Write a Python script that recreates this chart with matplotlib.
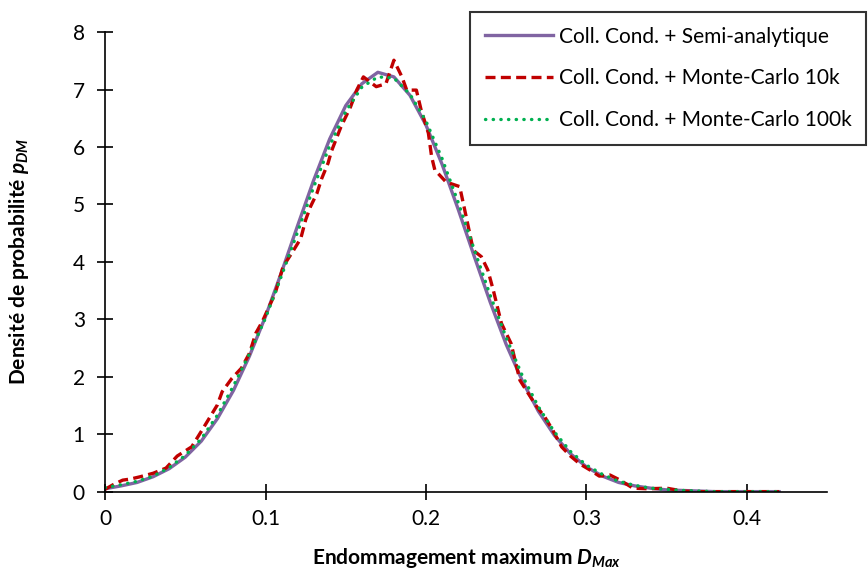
import matplotlib.pyplot as plt

plt.rcParams['font.family'] = ['Lato', 'DejaVu Sans']
plt.rcParams['mathtext.fontset'] = 'custom'
plt.rcParams['mathtext.it'] = 'Lato:italic:bold'
plt.rcParams['mathtext.rm'] = 'Lato:bold'

# semi-analytic density, step 0.01
x_sa = [0.00, 0.01, 0.02, 0.03, 0.04, 0.05, 0.06, 0.07, 0.08, 0.09,
        0.10, 0.11, 0.12, 0.13, 0.14, 0.15, 0.16, 0.17, 0.18, 0.19,
        0.20, 0.21, 0.22, 0.23, 0.24, 0.25, 0.26, 0.27, 0.28, 0.29,
        0.30, 0.31, 0.32, 0.33, 0.34, 0.35, 0.36, 0.37, 0.38, 0.39,
        0.40, 0.41, 0.42]
y_sa = [0.05, 0.10, 0.16, 0.26, 0.40, 0.60, 0.88, 1.27, 1.76, 2.36,
        3.05, 3.82, 4.63, 5.42, 6.14, 6.72, 7.10, 7.30, 7.22, 6.90,
        6.38, 5.70, 4.92, 4.10, 3.30, 2.56, 1.93, 1.40, 0.98, 0.66,
        0.43, 0.27, 0.16, 0.10, 0.06, 0.03, 0.02, 0.01, 0.00, 0.00,
        0.00, 0.00, 0.00]

# Monte-Carlo 10k (noisy)
x_10k = [0.000, 0.005, 0.011, 0.016, 0.022, 0.030, 0.038, 0.045, 0.054, 0.060,
         0.065, 0.070, 0.073, 0.079, 0.085, 0.090, 0.094, 0.098, 0.106, 0.111,
         0.117, 0.122, 0.125, 0.128, 0.132, 0.135, 0.139, 0.141, 0.147, 0.153,
         0.157, 0.161, 0.169, 0.175, 0.180, 0.185, 0.188, 0.194, 0.197, 0.2015,
         0.2035, 0.2055, 0.2125, 0.221, 0.225, 0.2295, 0.2345, 0.2385, 0.242, 0.247,
         0.253, 0.2585, 0.2637, 0.269, 0.274, 0.279, 0.2845, 0.290, 0.296, 0.302,
         0.308, 0.3146, 0.321, 0.329, 0.338, 0.350, 0.360, 0.370, 0.380, 0.390,
         0.400, 0.410, 0.420]
y_10k = [0.04, 0.12, 0.20, 0.22, 0.26, 0.32, 0.41, 0.62, 0.78, 1.05,
         1.28, 1.51, 1.74, 1.97, 2.15, 2.41, 2.76, 2.96, 3.45, 3.92,
         4.18, 4.41, 4.73, 4.96, 5.19, 5.45, 5.72, 5.92, 6.35, 6.70,
         7.00, 7.22, 7.05, 7.10, 7.51, 7.22, 6.99, 6.99, 6.64, 6.24,
         5.83, 5.60, 5.39, 5.31, 4.79, 4.20, 4.09, 3.86, 3.50, 2.93,
         2.58, 1.94, 1.71, 1.48, 1.30, 1.07, 0.78, 0.62, 0.48, 0.38,
         0.27, 0.29, 0.20, 0.06, 0.05, 0.06, 0.01, 0.00, 0.00, 0.00,
         0.00, 0.00, 0.00]

# Monte-Carlo 100k
x_100k = x_sa
y_100k = [0.07, 0.12, 0.18, 0.27, 0.42, 0.63, 0.92, 1.33, 1.84, 2.40,
          3.02, 3.76, 4.52, 5.30, 6.02, 6.62, 7.04, 7.22, 7.20, 6.92,
          6.45, 5.80, 5.04, 4.22, 3.42, 2.68, 2.02, 1.48, 1.04, 0.70,
          0.46, 0.30, 0.18, 0.11, 0.06, 0.04, 0.02, 0.01, 0.00, 0.00,
          0.00, 0.00, 0.00]

fig = plt.figure(figsize=(8.68, 5.73), dpi=100)
ax = fig.add_axes([0.121, 0.142, 0.832, 0.802])

ax.plot(x_sa, y_sa, color='#8064A2', linewidth=2.4, label='Coll. Cond. + Semi-analytique')
ax.plot(x_10k, y_10k, color='#C00000', linewidth=2.4, linestyle=(0, (3, 1.6)),
        label='Coll. Cond. + Monte-Carlo 10k')
ax.plot(x_100k, y_100k, color='#00B050', linewidth=2.4, linestyle=(0, (0.1, 2.2)),
        dash_capstyle='round', label='Coll. Cond. + Monte-Carlo 100k')

ax.set_xlim(0, 0.45)
ax.set_ylim(0, 8)
ax.set_xticks([0, 0.1, 0.2, 0.3, 0.4])
ax.set_xticklabels(['0', '0.1', '0.2', '0.3', '0.4'])
ax.set_yticks(range(0, 9))

for side in ['top', 'right']:
    ax.spines[side].set_visible(False)
for side in ['left', 'bottom']:
    ax.spines[side].set_linewidth(1.2)
ax.tick_params(direction='inout', length=11, width=1.2, labelsize=15)
ax.tick_params(axis='x', pad=7)
ax.tick_params(axis='y', pad=9)

ax.set_xlabel('Endommagement maximum $D_{Max}$', fontsize=15, fontweight='bold', labelpad=12)
ax.set_ylabel('Densité de probabilité $p_{DM}$', fontsize=15, fontweight='bold', labelpad=30)

leg = ax.legend(loc='upper left', bbox_to_anchor=(470 / 868, 1 - 12 / 573),
                bbox_transform=fig.transFigure, fontsize=15, frameon=True,
                fancybox=False, edgecolor='black', handlelength=3.3,
                handletextpad=0.25, labelspacing=1.05, borderpad=0.7,
                borderaxespad=0)
leg.get_frame().set_linewidth(1.5)

fig.savefig('out.png', dpi=100)
